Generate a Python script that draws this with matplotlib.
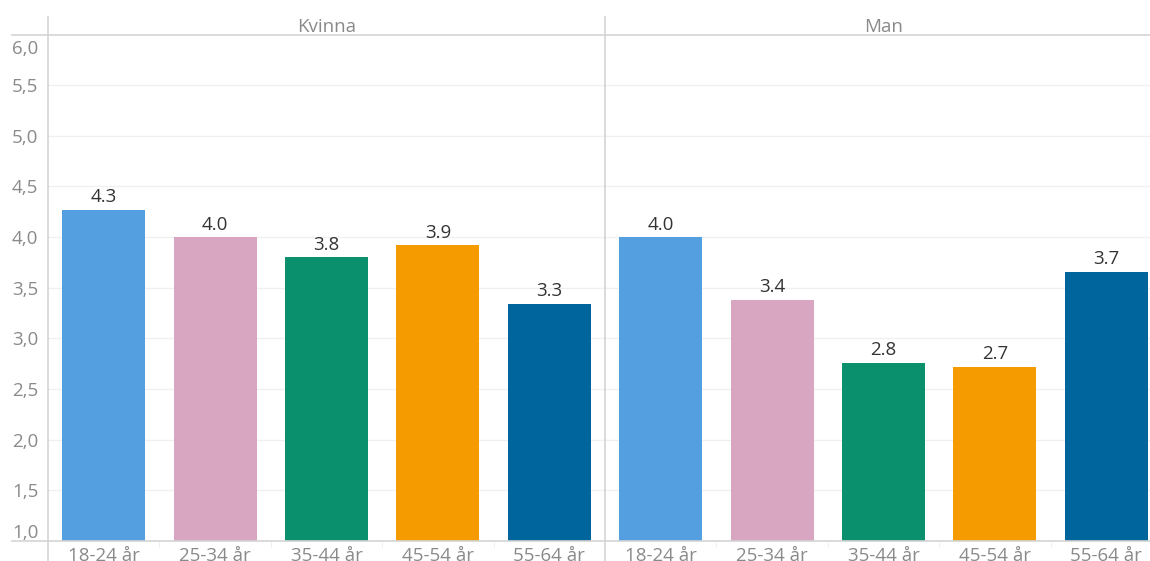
import matplotlib
matplotlib.use("Agg")
import matplotlib.pyplot as plt
from matplotlib.lines import Line2D
from matplotlib.ticker import FuncFormatter, FixedLocator
import matplotlib.transforms as mtransforms
import numpy as np

plt.rcParams['font.family'] = ['Open Sans', 'DejaVu Sans']

# Åldersgrupper och medelvärden per kön
AGE_GROUPS = ["18-24 år", "25-34 år", "35-44 år", "45-54 år", "55-64 år"]
PANELS = ["Kvinna", "Man"]
KVINNA = [4.27, 4.00, 3.80, 3.92, 3.34]
MAN = [4.00, 3.38, 2.76, 2.72, 3.66]
COLORS = ["#539FE0", "#D8A6C1", "#0A906C", "#F59B00", "#00659C"]

Y_TICKS = [1.0, 1.5, 2.0, 2.5, 3.0, 3.5, 4.0, 4.5, 5.0, 5.5, 6.0]

W, H = 1150, 561
LEFT = 48
PANEL_W = 557
TOP = 34.5
BOTTOM = 541
HEADER_TOP = 17

LINE_COL = "#d4d4d4"
GRID_COL = "#f0f0f0"
TICK_COL = "#8a8a8a"
LABEL_COL = "#333333"
FS = 13.5


def px_box(x0, y0, w, h):
    # pixel box (from top left) to figure fraction
    return [x0 / W, 1 - (y0 + h) / H, w / W, h / H]


fig = plt.figure(figsize=(W / 100, H / 100), dpi=100)
fig.patch.set_facecolor("white")

data = [KVINNA, MAN]
x = np.arange(len(AGE_GROUPS))

for i, (panel, values) in enumerate(zip(PANELS, data)):
    ax = fig.add_axes(px_box(LEFT + i * PANEL_W, TOP, PANEL_W, BOTTOM - TOP))
    ax.set_xlim(-0.5, len(AGE_GROUPS) - 0.5)
    ax.set_ylim(1.0, 6.0)

    bars = ax.bar(x, [v - 1.0 for v in values], bottom=1.0, width=0.745,
                  color=COLORS, zorder=2)
    for b, v in zip(bars, values):
        ax.annotate(f"{v:.1f}", (b.get_x() + b.get_width() / 2, v),
                    xytext=(0, 2.5), textcoords="offset points",
                    ha="center", va="bottom", fontsize=FS, color=LABEL_COL)

    ax.yaxis.set_major_locator(FixedLocator(Y_TICKS))
    ax.grid(axis="y", color=GRID_COL, linewidth=1, zorder=0)
    ax.set_axisbelow(True)

    ax.set_xticks(x)
    ax.set_xticklabels(AGE_GROUPS)
    ax.xaxis.set_minor_locator(FixedLocator(np.arange(0.5, len(AGE_GROUPS) - 1, 1)))
    ax.tick_params(axis="x", which="major", length=0, pad=4,
                   labelsize=FS, labelcolor=TICK_COL)
    ax.tick_params(axis="x", which="minor", length=4, color="#ececec")

    if i == 0:
        ax.yaxis.set_major_formatter(FuncFormatter(lambda v, p: f"{v:.1f}".replace(".", ",")))
        ax.tick_params(axis="y", length=0, pad=7, labelsize=FS, labelcolor=TICK_COL)
        labels = ax.get_yticklabels()
        # översta och understa etiketten flyttas in i plotytan
        shift_up = mtransforms.ScaledTranslation(0, 10 / 100, fig.dpi_scale_trans)
        shift_down = mtransforms.ScaledTranslation(0, -12 / 100, fig.dpi_scale_trans)
        labels[0].set_transform(labels[0].get_transform() + shift_up)
        labels[-1].set_transform(labels[-1].get_transform() + shift_down)
    else:
        ax.tick_params(axis="y", length=0, labelleft=False)

    for s in ax.spines.values():
        s.set_visible(False)

    ax.text(0.5, 1 + 7 / (BOTTOM - TOP), panel, transform=ax.transAxes,
            ha="center", va="center", fontsize=FS, color=TICK_COL)

# ramlinjer: rubrikrad, x-axel och paneldelare
fig.add_artist(Line2D([12 / W, 1], [1 - TOP / H] * 2, color=LINE_COL, lw=1.2))
fig.add_artist(Line2D([12 / W, 1], [1 - BOTTOM / H] * 2, color=LINE_COL, lw=1.2))
for xp in (LEFT, LEFT + PANEL_W):
    fig.add_artist(Line2D([xp / W] * 2, [0, 1 - HEADER_TOP / H], color=LINE_COL, lw=1.2))

fig.savefig("out.png", dpi=100, facecolor="white")
